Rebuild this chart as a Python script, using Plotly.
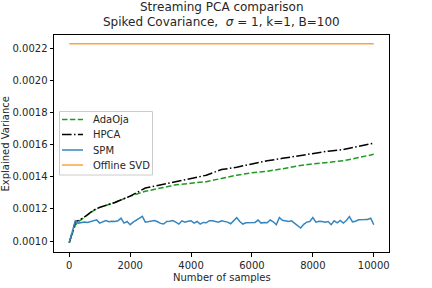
import plotly.graph_objects as go

# ---- data ----
spm_x = list(range(0, 10001, 100))
spm_y = [0.00099, 0.00106, 0.001126, 0.001112, 0.001115, 0.001118, 0.001116, 0.001120, 0.001124, 0.001132,
         0.001112, 0.001122, 0.001128, 0.001120, 0.001124, 0.001122, 0.001126, 0.001143, 0.001112, 0.001122,
         0.001102, 0.001118, 0.001130, 0.001140, 0.001154, 0.001118, 0.001122, 0.001124, 0.001128, 0.001120,
         0.001110, 0.001106, 0.001122, 0.001124, 0.001128, 0.001118, 0.001106, 0.001126, 0.001118, 0.001124,
         0.001127, 0.001112, 0.001122, 0.001106, 0.001116, 0.001114, 0.001127, 0.001126, 0.001122, 0.001118,
         0.001126, 0.001124, 0.001118, 0.001108, 0.001130, 0.001146, 0.001122, 0.001106, 0.001114, 0.001116,
         0.001114, 0.001116, 0.001131, 0.001112, 0.001116, 0.001114, 0.001131, 0.001120, 0.001102, 0.001147,
         0.001130, 0.001126, 0.001122, 0.001126, 0.001112, 0.001100, 0.001081, 0.001104, 0.001118, 0.001122,
         0.001147, 0.001118, 0.001124, 0.001122, 0.001118, 0.001122, 0.001102, 0.001126, 0.001114, 0.001128,
         0.001112, 0.001128, 0.001152, 0.001120, 0.001124, 0.001133, 0.001132, 0.001134, 0.001135, 0.001143,
         0.001102]

curve_x = [0, 100, 200, 300, 500, 800, 1000, 1500, 2000, 2500, 3000, 3500, 4000, 4500,
           5000, 5500, 6000, 6500, 7000, 7500, 8000, 8500, 9000, 9500, 10000]
hpca_y = [0.00099, 0.00106, 0.00112, 0.001128, 0.00115, 0.001193, 0.00121, 0.00124, 0.00128, 0.00133,
          0.00135, 0.00137, 0.00139, 0.00141, 0.001445, 0.00146, 0.00148, 0.0015, 0.001515, 0.00153,
          0.001545, 0.00156, 0.00157, 0.00159, 0.00161]
adaoja_y = [0.00099, 0.00105, 0.0011, 0.00112, 0.00115, 0.00119, 0.00121, 0.00124, 0.00128, 0.00131,
            0.00133, 0.00135, 0.00136, 0.00137, 0.00139, 0.00141, 0.001425, 0.001435, 0.00145, 0.001468,
            0.00148, 0.00149, 0.0015, 0.00152, 0.00154]
svd_x = [0, 10000]
svd_y = [0.002229, 0.002229]

x_ticks = [0, 2000, 4000, 6000, 8000, 10000]
y_ticks = [0.0010, 0.0012, 0.0014, 0.0016, 0.0018, 0.0020, 0.0022]

series_names = ["AdaOja", "HPCA", "SPM", "Offline SVD"]
series_colors = ["#1f9a1f", "black", "#3586c0", "#ffa23e"]
series_dash = ["5.5px,2.4px", "9.6px,2.4px,1.5px,2.4px", "solid", "solid"]

FONT = "DejaVu Sans"
TXT = "#262626"

fig = go.Figure()
series_data = [(curve_x, adaoja_y), (curve_x, hpca_y), (spm_x, spm_y), (svd_x, svd_y)]
for (xs, ys), nm, col, ds in zip(series_data, series_names, series_colors, series_dash):
    fig.add_trace(go.Scatter(x=xs, y=ys, mode="lines", name=nm, showlegend=False,
                             line=dict(color=col, width=1.5, dash=ds)))

# plot area geometry (pixels): left 54, right 389, top 35, bottom 252
L, R, T, B = 54, 389, 35, 252
PW, PH = R - L, B - T


def px(xp):
    return (xp - L) / PW


def py(yp):
    return (B - yp) / PH


shapes = []
annotations = []

# legend (drawn manually to match spacing)
shapes.append(dict(type="rect", xref="paper", yref="paper",
                   x0=px(59.5), x1=px(152.5), y0=py(175), y1=py(111.5),
                   line=dict(color="#cccccc", width=1), fillcolor="rgba(255,255,255,0.8)", layer="above"))
rows = [119.5, 134.5, 150, 165]
for yy, nm, col, ds in zip(rows, series_names, series_colors, series_dash):
    shapes.append(dict(type="line", xref="paper", yref="paper",
                       x0=px(62), x1=px(83), y0=py(yy), y1=py(yy),
                       line=dict(color=col, width=1.5, dash=ds), layer="above"))
    annotations.append(dict(text=nm, xref="paper", yref="paper", x=px(91), y=py(yy),
                            xanchor="left", yanchor="middle", showarrow=False,
                            font=dict(family=FONT, size=10, color=TXT)))

# titles
annotations.append(dict(text="Streaming PCA comparison", xref="paper", yref="paper",
                        x=0.5, y=py(7), xanchor="center", yanchor="middle", showarrow=False,
                        font=dict(family=FONT, size=12, color=TXT)))
annotations.append(dict(text="Spiked Covariance,  <i>σ</i> = 1, k=1, B=100", xref="paper", yref="paper",
                        x=0.5, y=py(22), xanchor="center", yanchor="middle", showarrow=False,
                        font=dict(family=FONT, size=12, color=TXT)))
annotations.append(dict(text="Number of samples", xref="paper", yref="paper",
                        x=0.5, y=py(277), xanchor="center", yanchor="middle", showarrow=False,
                        font=dict(family=FONT, size=10, color=TXT)))
annotations.append(dict(text="Explained Variance", xref="paper", yref="paper",
                        x=px(5), y=0.5, xanchor="center", yanchor="middle", showarrow=False, textangle=-90,
                        font=dict(family=FONT, size=10, color=TXT)))

fig.update_layout(
    width=432, height=288,
    margin=dict(l=L, r=432 - R, t=T, b=288 - B, autoexpand=False),
    paper_bgcolor="white", plot_bgcolor="white",
    font=dict(family=FONT, size=10, color=TXT),
    showlegend=False,
    shapes=shapes,
    annotations=annotations,
)
fig.update_xaxes(range=[-500, 10500], tickvals=x_ticks, ticktext=[str(v) for v in x_ticks],
                 showgrid=False, zeroline=False, showline=True, linecolor="black", linewidth=1,
                 mirror=True, ticks="outside", ticklen=3.5, tickcolor="black", automargin=False,
                 tickfont=dict(family=FONT, size=10, color=TXT))
fig.update_yaxes(range=[0.000932, 0.002283], tickvals=y_ticks, tickformat=".4f",
                 showgrid=False, zeroline=False, showline=True, linecolor="black", linewidth=1,
                 mirror=True, ticks="outside", ticklen=3.5, tickcolor="black", automargin=False,
                 tickfont=dict(family=FONT, size=10, color=TXT))

fig.write_html("out.html", config={"displayModeBar": False, "staticPlot": True},
               post_script="document.body.style.margin='0';document.body.style.overflow='hidden';")
